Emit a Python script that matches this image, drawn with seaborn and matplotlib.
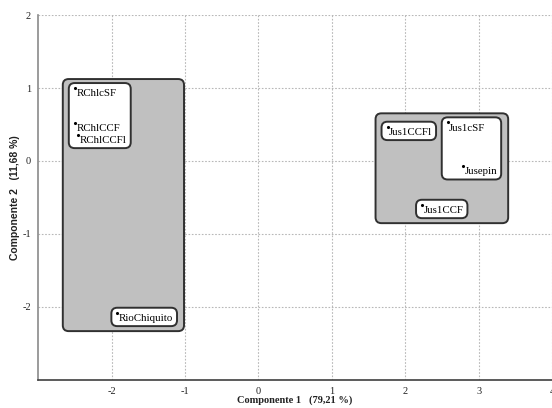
import matplotlib
matplotlib.use("Agg")
import matplotlib.pyplot as plt
from matplotlib.patches import FancyBboxPatch
import seaborn as sns
import pandas as pd

# sample scores on the first two principal components
labels = ["RChlcSF", "RChlCCF", "RChlCCFl", "RioChiquito",
          "Jus1CCFl", "Jus1cSF", "Jusepin", "Jus1CCF"]
comp1 = [-2.50, -2.50, -2.45, -1.92, 1.76, 2.58, 2.79, 2.23]
comp2 = [1.00, 0.52, 0.36, -2.08, 0.47, 0.53, -0.07, -0.60]

# groupings drawn as boxes
subgroups = [["RChlcSF", "RChlCCF", "RChlCCFl"], ["RioChiquito"],
             ["Jus1CCFl"], ["Jus1cSF", "Jusepin"], ["Jus1CCF"]]
clusters = [[0, 1], [2, 3, 4]]

xticks = [-2, -1, 0, 1, 2, 3, 4]
yticks = [-2, -1, 0, 1, 2]

df = pd.DataFrame({"label": labels, "c1": comp1, "c2": comp2})

sns.set_style("white")
plt.rcParams["font.family"] = ["Liberation Serif", "DejaVu Serif"]
plt.rcParams["axes.unicode_minus"] = False

fig = plt.figure(figsize=(5.52, 4.08), dpi=100)
ax = fig.add_axes([0.069, 0.069, 0.931, 0.894])

sns.scatterplot(data=df, x="c1", y="c2", color="black", s=5,
                edgecolor=None, linewidth=0, ax=ax, zorder=6)

ax.set_xlim(-3, 4)
ax.set_ylim(-3, 2)
ax.set_xticks(xticks)
ax.set_yticks(yticks)
ax.set_axisbelow(True)
ax.grid(True, linestyle=(0, (1.5, 1.5)), color="#b8b8b8", linewidth=0.8)

for s in ["top", "right"]:
    ax.spines[s].set_visible(False)
ax.spines["left"].set_color("#8a8a8a")
ax.spines["bottom"].set_color("#404040")
ax.spines["left"].set_linewidth(1.2)
ax.spines["bottom"].set_linewidth(1.2)
ax.tick_params(axis="both", labelsize=7.5, length=3, width=0.8,
               colors="#8a8a8a", labelcolor="#222222", pad=2)

ax.set_xlabel("Componente 1   (79,21 %)", fontsize=7.5, fontweight="bold",
              color="#222222", labelpad=0)
ax.set_ylabel("Componente 2   (11,68 %)", fontsize=7.5, fontweight="bold",
              color="#222222", family="Liberation Sans", labelpad=2)

texts = {}
for lab, x, y in zip(labels, comp1, comp2):
    texts[lab] = ax.annotate(lab, (x, y), xytext=(1, -1), textcoords="offset points",
                             ha="left", va="top", fontsize=7.8,
                             color="black", zorder=7)

fig.canvas.draw()
renderer = fig.canvas.get_renderer()
inv = ax.transData.inverted()


def box_px(names):
    x0s, y0s, x1s, y1s = [], [], [], []
    for n in names:
        i = labels.index(n)
        px, py = ax.transData.transform((comp1[i], comp2[i]))
        bb = texts[n].get_window_extent(renderer)
        x0s += [px, bb.x0]
        x1s += [px, bb.x1]
        y0s += [py, bb.y0]
        y1s += [py, bb.y1]
    return min(x0s) - 6, min(y0s) - 3, max(x1s) + 4, max(y1s) + 5


def add_box(b, fc, z):
    (x0, y0) = inv.transform((b[0], b[1]))
    (x1, y1) = inv.transform((b[2], b[3]))
    ax.add_patch(FancyBboxPatch((x0, y0), x1 - x0, y1 - y0,
                                boxstyle="round,pad=0,rounding_size=0.08",
                                fc=fc, ec="#303030", lw=1.4, zorder=z))


sub_boxes = [box_px(g) for g in subgroups]
for idx in clusters:
    bs = [sub_boxes[i] for i in idx]
    big = (min(b[0] for b in bs) - 6, min(b[1] for b in bs) - 5,
           max(b[2] for b in bs) + 7, max(b[3] for b in bs) + 4)
    add_box(big, "#c0c0c0", 2)
for b in sub_boxes:
    add_box(b, "white", 3)

fig.savefig("out.png", dpi=100)
